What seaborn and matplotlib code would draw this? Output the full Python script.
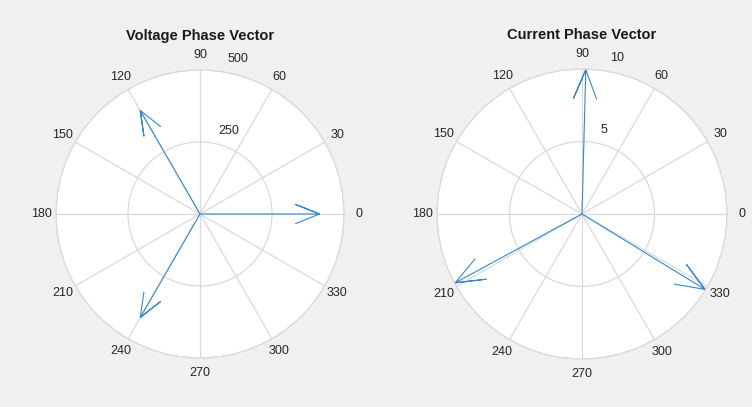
import numpy as np
import pandas as pd
import matplotlib
matplotlib.use("Agg")
import matplotlib.pyplot as plt
import seaborn as sns

sns.set_theme(style="white")
plt.rcParams["font.family"] = ["Liberation Sans", "DejaVu Sans"]

# Phasor data: magnitude and angle (degrees) of each phase
phases = ["A", "B", "C"]
voltage_mag = [415.0, 415.0, 415.0]
voltage_ang = [0.0, 120.0, 240.0]
current_mag = [9.95, 9.95, 9.95]
current_ang = [88.5, 208.5, 328.5]

voltage_rticks = [250, 500]
current_rticks = [5, 10]
theta_ticks = list(range(0, 360, 30))

VEC_COLOR = "#3a88c6"
GRID_COLOR = "#dadada"
FIG_BG = "#f0f0f0"
TEXT_COLOR = "#262626"


def compass_frame(mags, angs):
    """Build the compass-style arrow polylines (shaft + two barbs) in polar coords."""
    xx = np.array([0.0, 1.0, 0.8, 1.0, 0.8])
    yy = np.array([0.0, 0.0, 0.08, 0.0, -0.08])
    rows = []
    for name, m, a in zip(phases, mags, angs):
        t = np.deg2rad(a)
        x = m * (xx * np.cos(t) - yy * np.sin(t))
        y = m * (xx * np.sin(t) + yy * np.cos(t))
        for i, (xi, yi) in enumerate(zip(x, y)):
            rows.append({"phase": name, "order": i,
                         "theta": np.arctan2(yi, xi) if i else t,
                         "r": np.hypot(xi, yi)})
    return pd.DataFrame(rows)


def draw_compass(ax, mags, angs, rticks, title):
    df = compass_frame(mags, angs)
    for name, sub in df.groupby("phase"):
        sns.lineplot(data=sub, x="theta", y="r", sort=False, estimator=None,
                     color=VEC_COLOR, linewidth=0.8, ax=ax, legend=False)
    rmax = rticks[-1]
    ax.set_ylim(0, rmax)
    ax.set_facecolor("white")
    ax.set_thetagrids(theta_ticks, [str(t) for t in theta_ticks])
    ax.set_rgrids(rticks, labels=["" for _ in rticks])
    ax.grid(True, color=GRID_COLOR, linewidth=0.9)
    ax.spines["polar"].set_color(GRID_COLOR)
    ax.spines["polar"].set_linewidth(0.9)
    ax.tick_params(axis="x", pad=-2.5, labelsize=9, colors=TEXT_COLOR)
    ax.set_xlabel("")
    ax.set_ylabel("")
    # radial tick labels sit just outside their rings, left-aligned
    ax.text(np.deg2rad(77.8), rmax * 0.59, str(rticks[0]), ha="left",
            va="center", fontsize=9, color=TEXT_COLOR)
    ax.text(np.deg2rad(79.8), rmax * 1.094, str(rticks[1]), ha="left",
            va="center", fontsize=9, color=TEXT_COLOR)
    ax.set_title(title, fontsize=10.5, fontweight="bold", y=1.105, pad=0,
                 color="#1a1a1a")


fig = plt.figure(figsize=(7.52, 4.07), dpi=100, facecolor=FIG_BG)
ax1 = fig.add_axes([56 / 752, 49 / 407, 288 / 752, 288 / 407], projection="polar")
ax2 = fig.add_axes([437 / 752, 48 / 407, 290 / 752, 290 / 407], projection="polar")

draw_compass(ax1, voltage_mag, voltage_ang, voltage_rticks, "Voltage Phase Vector")
draw_compass(ax2, current_mag, current_ang, current_rticks, "Current Phase Vector")

fig.savefig("out.png", dpi=100, facecolor=FIG_BG)
